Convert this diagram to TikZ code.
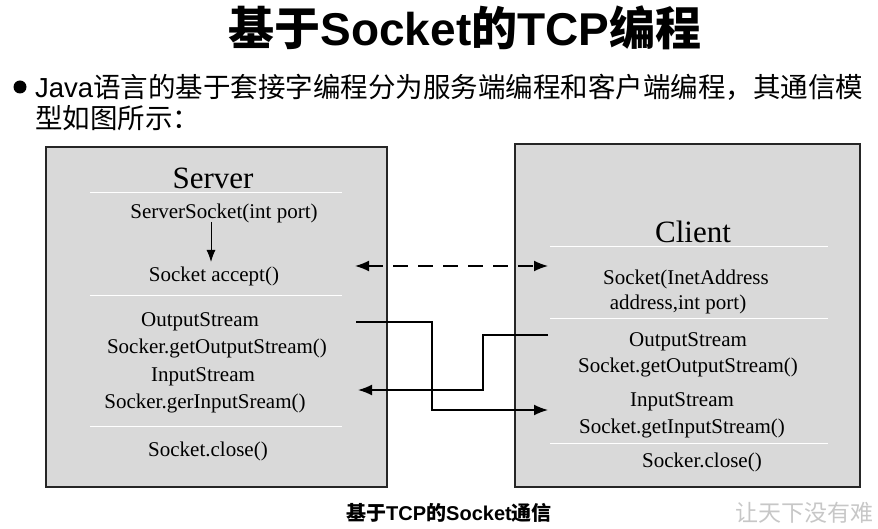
\documentclass[tikz,border=0pt]{standalone}
\usepackage{fontspec}
\setmainfont{Liberation Serif}
\newfontfamily\cjk{Noto Sans CJK SC}
\newfontfamily\arial{Liberation Sans}
\usetikzlibrary{arrows.meta}
\begin{document}
\begin{tikzpicture}[x=1pt,y=-1pt,
  panel/.style={draw=black!85, line width=1.3pt, fill=black!15},
  sep/.style={draw=white, line width=1pt},
  code/.style={font=\fontsize{21}{23}\selectfont, inner sep=0pt, yshift=-2pt},
  hdr/.style={font=\fontsize{31}{33}\selectfont, inner sep=0pt},
  link/.style={line width=1.6pt, -{Latex[length=14pt,width=11pt]}},
  both/.style={line width=1.6pt, {Latex[length=14pt,width=11pt]}-{Latex[length=14pt,width=11pt]}},
]
\useasboundingbox (0,0) rectangle (878,529);
% title and intro
\node[inner sep=0pt, font=\arial\bfseries\fontsize{46}{50}\selectfont] (title) at (465,28) {{\cjk 基于}Socket{\cjk 的}TCP{\cjk 编程}};
\node[circle, fill=black, inner sep=0pt, minimum size=13pt] (bullet) at (20,87) {};
\node[anchor=west, inner sep=0pt, font=\fontsize{27.5}{30}\selectfont] (line1) at (35,87) {{\arial Java}{\cjk 语言的基于套接字编程分为服务端编程和客户端编程，其通信模}};
\node[anchor=west, inner sep=0pt, font=\fontsize{27.5}{30}\selectfont] (line2) at (35,118) {{\cjk 型如图所示：}};

% panels
\draw[panel] (46,147) rectangle (387,487);
\draw[panel] (515,144) rectangle (860,487);

% server
\node[hdr] (server) at (213,178) {Server};
\draw[sep] (90,193) -- (342,193);
\node[code] (ss) at (224,211) {ServerSocket(int port)};
\node[code] (acc) at (214,274) {Socket accept()};
\draw[line width=1pt, -{Latex[length=12pt,width=9pt]}] (211,222) -- (211,262);
\draw[sep] (90,296) -- (342,296);
\node[code] (sos) at (200,320) {OutputStream};
\node[code] (sgos) at (217,346) {Socker.getOutputStream()};
\node[code] (sis) at (203,375) {InputStream};
\node[code] (sgis) at (205,401) {Socker.gerInputSream()};
\draw[sep] (90,426) -- (342,426);
\node[code] (sclose) at (208,449) {Socket.close()};

% client
\node[hdr] (client) at (693,232) {Client};
\draw[sep] (550,247) -- (828,247);
\node[code] (sock1) at (686,277) {Socket(InetAddress};
\node[code] (sock2) at (678,302) {address,int port)};
\draw[sep] (550,318) -- (828,318);
\node[code] (cos) at (688,340) {OutputStream};
\node[code] (cgos) at (688,365) {Socket.getOutputStream()};
\node[code] (cis) at (682,400) {InputStream};
\node[code] (cgis) at (682,426) {Socket.getInputStream()};
\draw[sep] (550,443) -- (828,443);
\node[code] (cclose) at (702,460) {Socker.close()};

% connectors
\coordinate (dl) at (355,266);
\coordinate (dr) at (548,266);
\draw[both, dash pattern=on 15pt off 10pt] (dl) -- (dr);
\coordinate (o1) at (356,322);
\coordinate (i1) at (548,410);
\draw[link] (o1) -- (432,322) -- (432,410) -- (i1);
\coordinate (o2) at (548,335);
\coordinate (i2) at (358,390);
\draw[link] (o2) -- (483,335) -- (483,390) -- (i2);

% caption and watermark
\node[inner sep=0pt, font=\arial\bfseries\fontsize{20}{22}\selectfont] (cap) at (449,513) {{\cjk\bfseries 基于}TCP{\cjk\bfseries 的}Socket{\cjk\bfseries 通信}};
\node[anchor=west, inner sep=0pt, text=black!22, font=\fontsize{23}{25}\selectfont] (wm) at (735,513) {{\cjk 让天下没有难}};
\end{tikzpicture}
\end{document}
